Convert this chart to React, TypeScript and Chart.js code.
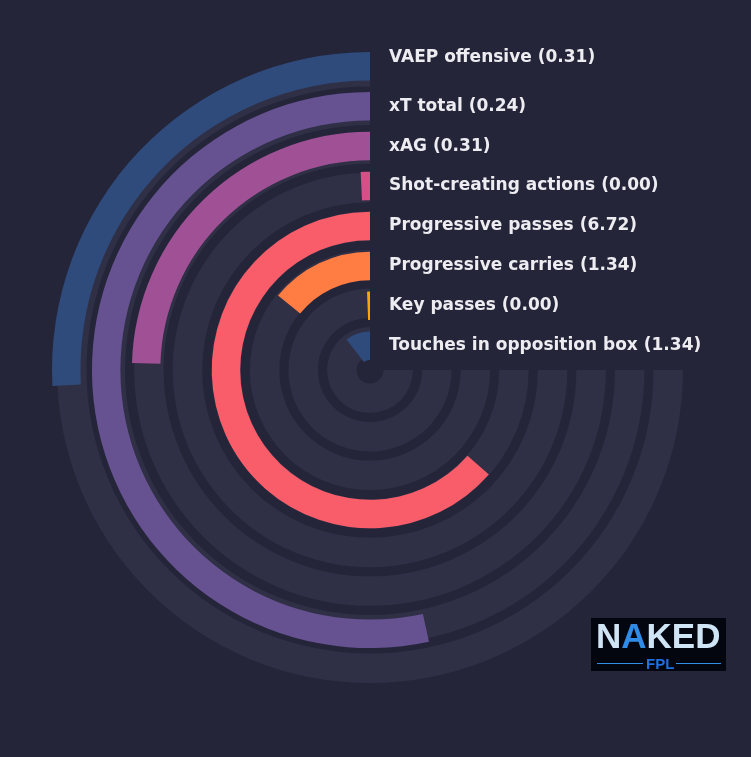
import { useEffect, useRef } from "react";
import Chart from "chart.js/auto";

const metrics = [
  "VAEP offensive",
  "xT total",
  "xAG",
  "Shot-creating actions",
  "Progressive passes",
  "Progressive carries",
  "Key passes",
  "Touches in opposition box",
];
const per90 = [0.31, 0.24, 0.31, 0.0, 6.72, 1.34, 0.0, 1.34];
// percentile rank, drawn as a share of the 270° track
const percentiles = [34.4, 71.2, 32.7, 1.0, 84.7, 18.9, 0.8, 14.0];
const barColors = ["#2f4b7c", "#665191", "#a05195", "#d45087", "#f95d6a", "#ff7c43", "#ffa600", "#2f4b7c"];

const BG = "#25253a";
const TRACK = "#2f2f45";
const W = 751;
const H = 757;
const CX = 370;
const CY = 370;

function ringDatasets(rings: any[], ringWeight: number, gapWeight: number) {
  const out: any[] = [];
  rings.forEach((r, i) => {
    out.push({ ...r, weight: ringWeight, borderWidth: 0 });
    if (i < rings.length - 1) {
      out.push({ data: [1], backgroundColor: ["rgba(0,0,0,0)"], weight: gapWeight, borderWidth: 0 });
    }
  });
  return out;
}

function baseOptions(radius: number, cutout: number) {
  return {
    animation: false as const,
    responsive: true,
    maintainAspectRatio: false,
    rotation: 90,
    circumference: 270,
    cutout,
    events: [],
    layout: {
      padding: { left: CX - radius, top: CY - radius, right: W - CX - radius, bottom: H - CY - radius },
    },
    plugins: { legend: { display: false }, tooltip: { enabled: false } },
  };
}

const labelPlugin = {
  id: "ringLabels",
  afterDatasetsDraw(chart: any) {
    const ctx = chart.ctx;
    ctx.save();
    ctx.font = "bold 17px 'DejaVu Sans'";
    ctx.fillStyle = "#ececf1";
    ctx.textBaseline = "middle";
    metrics.forEach((name, i) => {
      const arc = chart.getDatasetMeta(i * 2).data[1];
      const { x, y, innerRadius, outerRadius } = arc.getProps(["x", "y", "innerRadius", "outerRadius"], true);
      const ty = y - (innerRadius + outerRadius) / 2 - (i === 0 ? 9 : 0);
      ctx.fillText(`${name} (${per90[i].toFixed(2)})`, x + 19, ty);
    });
    ctx.restore();
  },
};

export default function App() {
  const trackRef = useRef<HTMLCanvasElement | null>(null);
  const barRef = useRef<HTMLCanvasElement | null>(null);

  useEffect(() => {
    if (!trackRef.current || !barRef.current) return;

    const trackChart = new Chart(trackRef.current, {
      type: "doughnut",
      data: {
        datasets: ringDatasets(
          metrics.map(() => ({ data: [1], backgroundColor: [TRACK] })),
          29.5,
          9.1
        ),
      },
      options: baseOptions(313, 13.5) as any,
    });

    const barChart = new Chart(barRef.current, {
      type: "doughnut",
      data: {
        datasets: ringDatasets(
          percentiles.map((p, i) => ({
            data: [100 - p, p],
            backgroundColor: ["rgba(0,0,0,0)", barColors[i]],
          })),
          28.5,
          11.5
        ),
      },
      options: baseOptions(318, 10) as any,
      plugins: [labelPlugin],
    });

    return () => {
      trackChart.destroy();
      barChart.destroy();
    };
  }, []);

  return (
    <div style={{ position: "fixed", left: 0, top: 0, width: W, height: H, background: BG, overflow: "hidden" }}>
      <div style={{ position: "absolute", left: 0, top: 0, width: W, height: H }}>
        <canvas ref={trackRef}></canvas>
      </div>
      <div style={{ position: "absolute", left: 0, top: 0, width: W, height: H }}>
        <canvas ref={barRef}></canvas>
      </div>
      <div
        style={{
          position: "absolute",
          left: 591,
          top: 618,
          width: 135,
          height: 53,
          background: "#03060f",
          fontFamily: "'Liberation Sans', Arial, sans-serif",
          fontWeight: "bold",
        }}
      >
        <div style={{ position: "absolute", left: 5, top: 0, fontSize: 35, lineHeight: "36px", color: "#cfe5f6", letterSpacing: 0 }}>
          N<span style={{ color: "#2f8be6" }}>A</span>KED
        </div>
        <div style={{ position: "absolute", left: 6, top: 45, width: 46, height: 1, background: "#2f8fe6" }}></div>
        <div style={{ position: "absolute", left: 85, top: 45, width: 45, height: 1, background: "#2f8fe6" }}></div>
        <div style={{ position: "absolute", left: 55, top: 38, fontSize: 15, lineHeight: "15px", color: "#1f6fde" }}>FPL</div>
      </div>
    </div>
  );
}
